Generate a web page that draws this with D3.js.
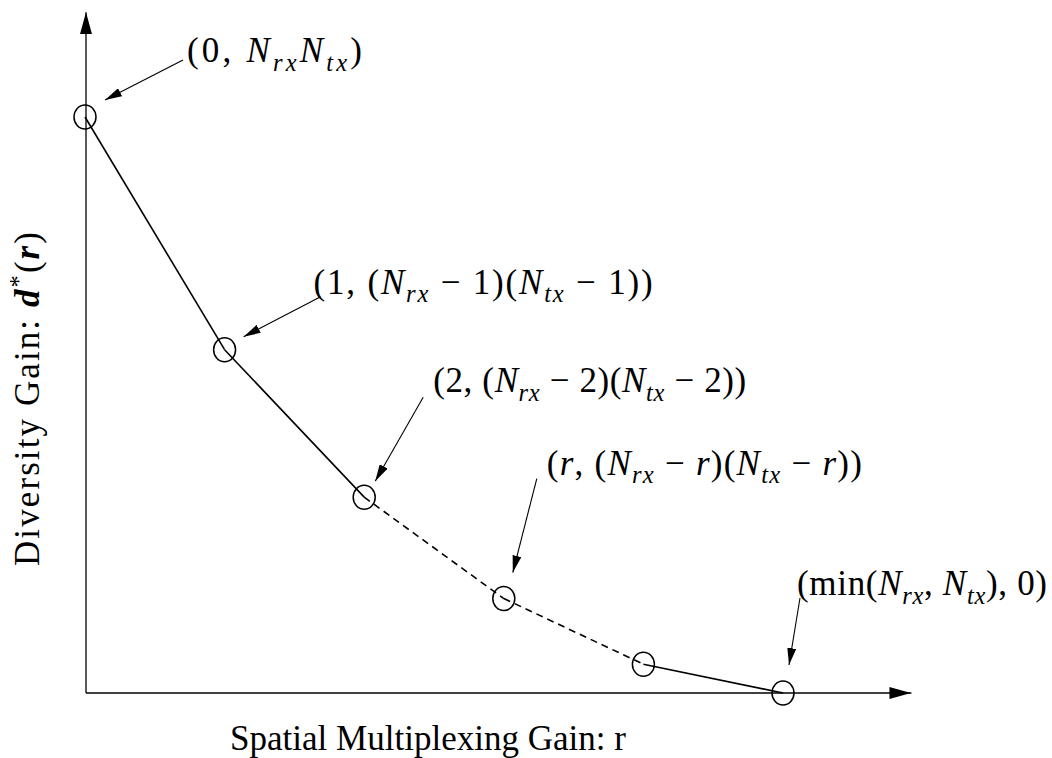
<!DOCTYPE html>
<html>
<head>
<meta charset="utf-8">
<script src="https://cdn.jsdelivr.net/npm/d3@7"></script>
<style>
  html, body { margin: 0; padding: 0; background: #fff; }
  text { font-family: "Liberation Serif", "DejaVu Serif", serif; fill: #000; }
</style>
</head>
<body>
<script>
// data: spatial multiplexing gain r vs diversity gain d*(r)
const rVals = [0, 1, 2, 3, 4, 5];
const dVals = [25, 14.9, 8.5, 4.1, 1.25, 0];
// line style for each segment between consecutive points
const segDash = [false, false, true, true, false];

// labels for annotated points (index into rVals)
const annIndex = [0, 1, 2, 3, 5];
const annParts = [
  [['(0, ', 'r'], ['N', 'i'], ['rx', 's'], ['N', 'i'], ['tx', 's'], [')', 'r']],
  [['(1, (', 'r'], ['N', 'i'], ['rx', 's'], [' \u2212 1)(', 'r'], ['N', 'i'], ['tx', 's'], [' \u2212 1))', 'r']],
  [['(2, (', 'r'], ['N', 'i'], ['rx', 's'], [' \u2212 2)(', 'r'], ['N', 'i'], ['tx', 's'], [' \u2212 2))', 'r']],
  [['(', 'r'], ['r', 'i'], [', (', 'r'], ['N', 'i'], ['rx', 's'], [' \u2212 ', 'r'], ['r', 'i'], [')(', 'r'], ['N', 'i'], ['tx', 's'], [' \u2212 ', 'r'], ['r', 'i'], ['))', 'r']],
  [['(min(', 'r'], ['N', 'i'], ['rx', 's'], [', ', 'r'], ['N', 'i'], ['tx', 's'], ['), 0)', 'r']]
];

const xTitle = 'Spatial Multiplexing Gain: r';
const yTitle = [['Diversity Gain: ', 'r'], ['d', 'b'], ['*', 'p'], ['(', 'r'], ['r', 'bi'], [')', 'r']];

// layout
const W = 1052, H = 758;
const x = d3.scaleLinear().domain([0, 6]).range([85, 922.6]);
const y = d3.scaleLinear().domain([0, 25]).range([693, 117]);
const xEnd = 5.92, yEnd = 29.55;
const fs = 35;

// label placement relative to annotated point: text offset + width, arrow tail, arrow tip
const annLayout = [
  {tx: 102, ty: -55, w: 175, ax: 98, ay: -57, bx: 20, by: -17},
  {tx: 89, ty: -56, w: 339, ax: 96, ay: -53, bx: 19, by: -13},
  {tx: 69, ty: -105, w: 313, ax: 59, ay: -100, bx: 11, by: -16},
  {tx: 43, ty: -124, w: 315, ax: 33, ay: -120, bx: 9, by: -26},
  {tx: 14, ty: -98, w: 250, ax: 17, ay: -95, bx: 6, by: -28}
];

const svg = d3.select('body').append('svg')
  .attr('width', W).attr('height', H);

const defs = svg.append('defs');
defs.append('marker')
  .attr('id', 'axhead')
  .attr('viewBox', '0 0 22 12')
  .attr('refX', 22).attr('refY', 6)
  .attr('markerWidth', 22).attr('markerHeight', 12)
  .attr('markerUnits', 'userSpaceOnUse')
  .attr('orient', 'auto')
  .append('path').attr('d', 'M0,0 L22,6 L0,12 Z').attr('fill', '#000');
defs.append('marker')
  .attr('id', 'annhead')
  .attr('viewBox', '0 0 17 9')
  .attr('refX', 17).attr('refY', 4.5)
  .attr('markerWidth', 17).attr('markerHeight', 9)
  .attr('markerUnits', 'userSpaceOnUse')
  .attr('orient', 'auto')
  .append('path').attr('d', 'M0,0 L17,4.5 L0,9 Z').attr('fill', '#000');

// axes
svg.append('line')
  .attr('x1', x(0) + 1).attr('y1', y(0)).attr('x2', x(xEnd)).attr('y2', y(0))
  .attr('stroke', '#000').attr('stroke-width', 1.3)
  .attr('marker-end', 'url(#axhead)');
svg.append('line')
  .attr('x1', x(0) + 1).attr('y1', y(0)).attr('x2', x(0) + 1).attr('y2', y(yEnd))
  .attr('stroke', '#000').attr('stroke-width', 1.3)
  .attr('marker-end', 'url(#axhead)');

// curve segments
const pts = rVals.map((r, i) => [x(r), y(dVals[i])]);
svg.append('g').selectAll('line')
  .data(segDash)
  .join('line')
  .attr('x1', (d, i) => pts[i][0]).attr('y1', (d, i) => pts[i][1])
  .attr('x2', (d, i) => pts[i + 1][0]).attr('y2', (d, i) => pts[i + 1][1])
  .attr('stroke', '#000')
  .attr('stroke-width', 1.6)
  .attr('stroke-dasharray', d => d ? '7,5' : null);

// markers
svg.append('g').selectAll('ellipse')
  .data(pts)
  .join('ellipse')
  .attr('cx', d => d[0]).attr('cy', d => d[1])
  .attr('rx', 11).attr('ry', 12)
  .attr('fill', 'none').attr('stroke', '#000').attr('stroke-width', 1.5);

// writes math-like runs into a text element
function mathText(sel, parts, size) {
  let shifted = 0;
  parts.forEach(([s, k]) => {
    const t = sel.append('tspan').text(s);
    let dy = 0;
    if (k === 's') {
      t.attr('font-style', 'italic').attr('font-size', size * 0.7);
      dy = size * 0.25;
    } else if (k === 'p') {
      t.attr('font-size', size * 0.7);
      dy = -size * 0.35;
    } else {
      if (k === 'i') t.attr('font-style', 'italic');
      if (k === 'b' || k === 'bi') t.attr('font-style', 'italic').attr('font-weight', 'bold');
    }
    t.attr('dy', dy - shifted);
    shifted = dy;
  });
}

// annotations
const ann = svg.append('g');
annIndex.forEach((pi, j) => {
  const p = pts[pi], L = annLayout[j];
  ann.append('line')
    .attr('x1', p[0] + L.ax).attr('y1', p[1] + L.ay)
    .attr('x2', p[0] + L.bx).attr('y2', p[1] + L.by)
    .attr('stroke', '#000').attr('stroke-width', 1.1)
    .attr('marker-end', 'url(#annhead)');
  const t = ann.append('text')
    .attr('x', p[0] + L.tx).attr('y', p[1] + L.ty)
    .attr('font-size', fs)
    .attr('textLength', L.w)
    .attr('lengthAdjust', 'spacing');
  mathText(t, annParts[j], fs);
});

// axis titles
svg.append('text')
  .attr('x', 428).attr('y', 750)
  .attr('text-anchor', 'middle')
  .attr('font-size', fs)
  .attr('textLength', 396)
  .attr('lengthAdjust', 'spacing')
  .text(xTitle);

const yt = svg.append('text')
  .attr('transform', 'translate(39,399) rotate(-90)')
  .attr('text-anchor', 'middle')
  .attr('font-size', fs)
  .attr('textLength', 334)
  .attr('lengthAdjust', 'spacing');
mathText(yt, yTitle, fs);
</script>
</body>
</html>
